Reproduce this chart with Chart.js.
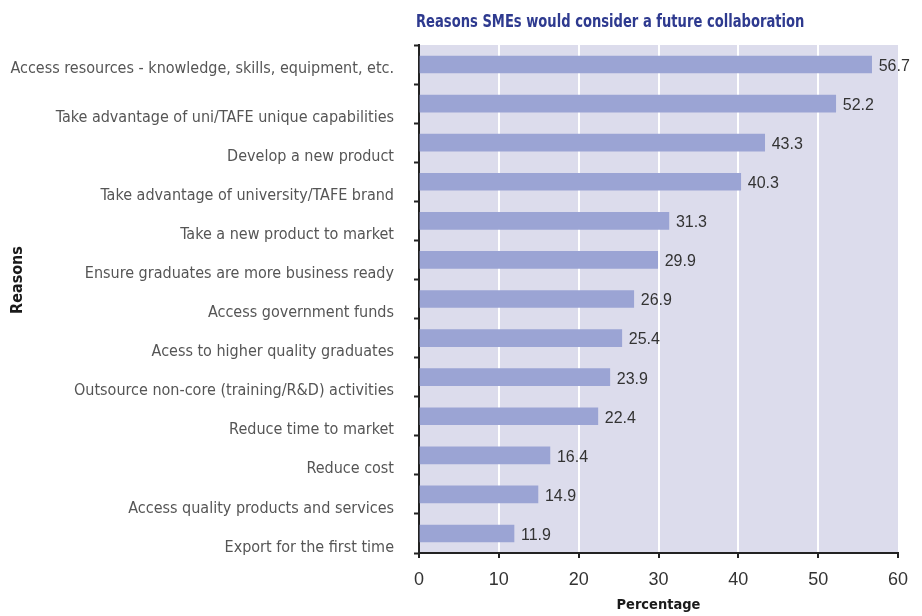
<!DOCTYPE html>
<html>
<head>
<meta charset="utf-8">
<script src="https://cdn.jsdelivr.net/npm/chart.js@4/dist/chart.umd.min.js"></script>
<style>
  html, body { margin: 0; padding: 0; background: #fff; }
  #wrap { width: 922px; height: 616px; }
</style>
</head>
<body>
<div id="wrap"><canvas id="myChart" width="922" height="616"></canvas></div>
<script>
const chartTitle = "Reasons SMEs would consider a future collaboration";
const axisTitleX = "Percentage";
const axisTitleY = "Reasons";

const categories = [
  "Access resources - knowledge, skills, equipment, etc.",
  "Take advantage of uni/TAFE unique capabilities",
  "Develop a new product",
  "Take advantage of university/TAFE brand",
  "Take a new product to market",
  "Ensure graduates are more business ready",
  "Access government funds",
  "Acess to higher quality graduates",
  "Outsource non-core (training/R&D) activities",
  "Reduce time to market",
  "Reduce cost",
  "Access quality products and services",
  "Export for the first time"
];
const percentages = [56.7, 52.2, 43.3, 40.3, 31.3, 29.9, 26.9, 25.4, 23.9, 22.4, 16.4, 14.9, 11.9];

const xMin = 0;
const xMax = 60;
const xStep = 10;

const NARROW = '"Liberation Sans Narrow", "DejaVu Sans Condensed", "Arial Narrow", sans-serif';
const REGULAR = '"Liberation Sans", Arial, sans-serif';

// first label sits higher than the rest, so give it an empty second line
const yLabels = categories.map((c, i) => (i === 0 ? [c, ""] : c));

// lavender panel behind the bars
const panelBg = {
  id: "panelBg",
  beforeDraw(chart) {
    const { ctx, chartArea: a } = chart;
    ctx.save();
    ctx.fillStyle = "#dcdcec";
    ctx.fillRect(a.left, a.top, a.right - a.left, a.bottom - a.top);
    ctx.restore();
  }
};

// title above the panel + rotated y title (squeezed a bit, condensed look)
const titles = {
  id: "titles",
  afterDraw(chart) {
    const { ctx, chartArea: a } = chart;
    ctx.save();
    ctx.fillStyle = "#2e3a8f";
    ctx.font = "bold 18px " + NARROW;
    ctx.textAlign = "left";
    ctx.textBaseline = "middle";
    ctx.translate(a.left - 3, 22);
    ctx.scale(0.81, 1);
    ctx.fillText(chartTitle, 0, 0);
    ctx.restore();

    ctx.save();
    ctx.fillStyle = "#1a1a1a";
    ctx.font = "bold 16px " + NARROW;
    ctx.translate(18, 280);
    ctx.rotate(-Math.PI / 2);
    ctx.textAlign = "center";
    ctx.textBaseline = "middle";
    ctx.fillText(axisTitleY, 0, 0);
    ctx.restore();
  }
};

// value next to each bar
const valueLabels = {
  id: "valueLabels",
  afterDatasetsDraw(chart) {
    const { ctx } = chart;
    const meta = chart.getDatasetMeta(0);
    ctx.save();
    ctx.fillStyle = "#333";
    ctx.font = "16px " + REGULAR;
    ctx.textAlign = "left";
    ctx.textBaseline = "middle";
    meta.data.forEach((bar, i) => {
      ctx.fillText(percentages[i].toFixed(1), bar.x + 7, bar.y + 2);
    });
    ctx.restore();
  }
};

new Chart(document.getElementById("myChart"), {
  type: "bar",
  data: {
    labels: yLabels,
    datasets: [{
      data: percentages,
      backgroundColor: "#9ba4d4",
      borderWidth: 0,
      barThickness: 17
    }]
  },
  options: {
    indexAxis: "y",
    responsive: false,
    animation: false,
    events: [],
    layout: { padding: { top: 45, right: 24, bottom: 0, left: 0 } },
    plugins: {
      legend: { display: false },
      tooltip: { enabled: false }
    },
    scales: {
      x: {
        min: xMin,
        max: xMax,
        ticks: {
          stepSize: xStep,
          color: "#333",
          font: { family: REGULAR, size: 18 },
          padding: 11
        },
        grid: {
          color: (ctx) => (ctx.tick && (ctx.tick.value === xMin || ctx.tick.value === xMax) ? "rgba(0,0,0,0)" : "#ffffff"),
          lineWidth: 2,
          tickColor: "#222",
          tickLength: 5
        },
        border: { color: "#222", width: 2 },
        title: {
          display: true,
          text: axisTitleX,
          color: "#1a1a1a",
          font: { family: NARROW, size: 14.5, weight: "bold" },
          padding: { top: 0, bottom: 2 }
        },
        afterFit: (s) => { s.height = 63; }
      },
      y: {
        ticks: {
          autoSkip: false,
          color: "#555",
          font: { family: NARROW, size: 16 },
          padding: 20,
          labelOffset: 14
        },
        grid: {
          drawOnChartArea: false,
          tickColor: "#222",
          tickLength: 5,
          tickWidth: 2
        },
        border: { color: "#222", width: 2 },
        afterFit: (s) => { s.width = 419; }
      }
    }
  },
  plugins: [panelBg, titles, valueLabels]
});
</script>
</body>
</html>
